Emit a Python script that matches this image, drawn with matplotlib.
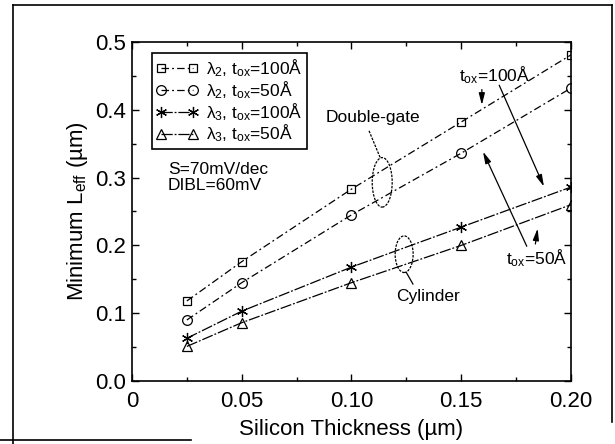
import numpy as np
import matplotlib.pyplot as plt
from matplotlib.patches import Ellipse
from matplotlib.lines import Line2D

plt.rcParams['font.family'] = ['Liberation Sans', 'DejaVu Sans']
plt.rcParams['mathtext.fontset'] = 'custom'
plt.rcParams['mathtext.rm'] = 'Liberation Sans'
plt.rcParams['mathtext.it'] = 'Liberation Sans'

# silicon thickness (um)
tsi = [0.025, 0.05, 0.10, 0.15, 0.20]
# minimum Leff (um)
dg_tox100 = [0.118, 0.176, 0.283, 0.382, 0.481]
dg_tox50 = [0.090, 0.145, 0.245, 0.336, 0.432]
cyl_tox100 = [0.063, 0.103, 0.168, 0.227, 0.286]
cyl_tox50 = [0.051, 0.086, 0.145, 0.200, 0.260]

labels = [r'$\lambda_2$, t$_{ox}$=100Å', r'$\lambda_2$, t$_{ox}$=50Å',
          r'$\lambda_3$, t$_{ox}$=100Å', r'$\lambda_3$, t$_{ox}$=50Å']

fig = plt.figure(figsize=(6.15, 4.44), dpi=100)
ax = fig.add_axes([0.2146, 0.1419, 0.7138, 0.7635])

dg_dash = (6, 2.5, 1.5, 2.5)
cyl_dash = (9, 1.5, 1.5, 1.5)
kw = dict(color='black', lw=0.9, markerfacecolor='none', markeredgecolor='black',
          markeredgewidth=0.9)
ax.plot(tsi, dg_tox100, marker='s', ms=6, dashes=dg_dash, label=labels[0], **kw)
ax.plot(tsi, dg_tox50, marker='o', ms=7, dashes=dg_dash, label=labels[1], **kw)
ax.plot(tsi, cyl_tox100, marker=(6, 2, 0), ms=8, dashes=cyl_dash, label=labels[2], **kw)
ax.plot(tsi, cyl_tox50, marker='^', ms=7, dashes=cyl_dash, label=labels[3], **kw)

ax.set_xlim(0, 0.2)
ax.set_ylim(0, 0.5)
ax.set_xticks([0, 0.05, 0.10, 0.15, 0.20])
ax.set_xticklabels(['0', '0.05', '0.10', '0.15', '0.20'])
ax.set_yticks([0.0, 0.1, 0.2, 0.3, 0.4, 0.5])
ax.set_yticklabels(['0.0', '0.1', '0.2', '0.3', '0.4', '0.5'])
ax.set_xticks(np.arange(0.025, 0.2, 0.05), minor=True)
ax.set_yticks(np.arange(0.05, 0.5, 0.1), minor=True)
ax.tick_params(which='both', direction='in', top=True, right=True, width=1)
ax.tick_params(which='major', length=5, labelsize=16, pad=4)
ax.tick_params(axis='x', which='major', pad=7)
ax.tick_params(which='minor', length=3)
for s in ax.spines.values():
    s.set_linewidth(1.2)

ax.set_xlabel('Silicon Thickness (µm)', fontsize=16, labelpad=5)
ax.set_ylabel(r'Minimum L$_{\mathrm{eff}}$ (µm)', fontsize=16, labelpad=4)

leg = ax.legend(loc='upper left', bbox_to_anchor=(0.045, 0.967), borderaxespad=0,
                fontsize=12.5, numpoints=2, handlelength=2.4, handletextpad=0.5,
                labelspacing=0.0, borderpad=0.25, fancybox=False,
                edgecolor='black', framealpha=1)
leg.get_frame().set_linewidth(1.2)

ax.text(0.0164, 0.312, 'S=70mV/dec', fontsize=12.5, va='center')
ax.text(0.0164, 0.289, 'DIBL=60mV', fontsize=12.5, va='center')

# double-gate callout
ax.text(0.110, 0.388, 'Double-gate', fontsize=12.5, ha='center', va='center')
ax.add_patch(Ellipse((0.114, 0.293), 0.0091, 0.073, fill=False, lw=0.9,
                     ls=(0, (2, 1)), color='black'))
ax.plot([0.108, 0.113], [0.369, 0.330], color='black', lw=0.9, ls=(0, (2, 1)))

# cylinder callout
ax.add_patch(Ellipse((0.124, 0.187), 0.0082, 0.054, fill=False, lw=0.9,
                     ls=(0, (2, 1)), color='black'))
ax.plot([0.125, 0.128], [0.160, 0.143], color='black', lw=0.9)
ax.text(0.135, 0.125, 'Cylinder', fontsize=12.5, ha='center', va='center')

# tox labels and arrows
arr = dict(arrowstyle='-|>,head_length=0.7,head_width=0.18', color='black', lw=0.9)
ax.text(0.165, 0.451, r't$_{ox}$=100Å', fontsize=12.5, ha='center', va='center')
ax.annotate('', xy=(0.1594, 0.403), xytext=(0.1594, 0.434), arrowprops=arr)
ax.annotate('', xy=(0.1882, 0.283), xytext=(0.1668, 0.440), arrowprops=arr)
ax.text(0.1845, 0.181, r't$_{ox}$=50Å', fontsize=12.5, ha='center', va='center')
ax.annotate('', xy=(0.1850, 0.229), xytext=(0.1836, 0.198), arrowprops=arr)
ax.annotate('', xy=(0.1594, 0.342), xytext=(0.1804, 0.195), arrowprops=arr)

# scanned page frame
frame = dict(color='black', lw=1.2, transform=fig.transFigure)
fig.add_artist(Line2D([0.021, 0.021], [0.0, 0.989], **frame))
fig.add_artist(Line2D([0.021, 0.995], [0.989, 0.989], **frame))
fig.add_artist(Line2D([0.995, 0.995], [0.05, 0.989], **frame))
fig.add_artist(Line2D([0.0, 0.31], [0.01, 0.01], **frame))

fig.savefig('out.png', dpi=100)
